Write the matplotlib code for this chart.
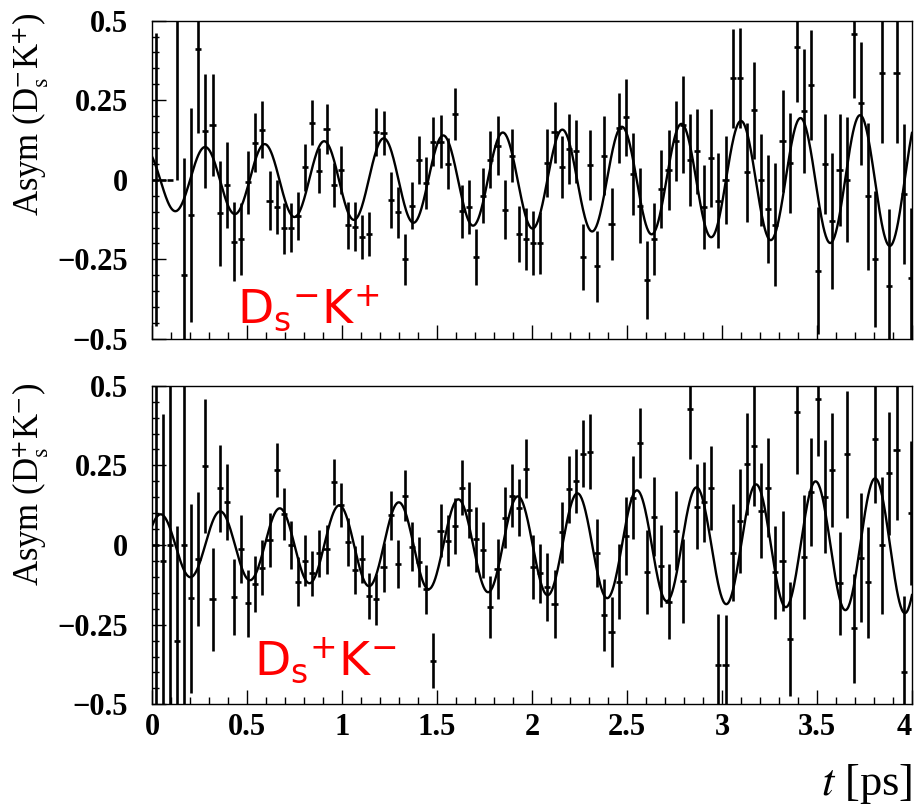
import numpy as np
import matplotlib.pyplot as plt
from matplotlib.ticker import MultipleLocator, FuncFormatter

# histogram binning: 0.0375 ps wide bins, first 107 bins shown (0 - 4 ps)
bin_width = 0.0375
n_bins = 107
t_bins = (np.arange(n_bins) + 0.5) * bin_width

# Asym(Ds- K+) per bin and its error
asym_dsm = [0.000, 0.000, 0.000, 1.000, -0.300, -0.110, 0.412, 0.152, 0.173, -0.105,
            -0.016, -0.194, -0.186, -0.008, 0.117, 0.157, -0.066, -0.086, -0.152, -0.150,
            -0.113, 0.039, 0.180, 0.029, 0.160, -0.016, 0.031, -0.143, -0.147, -0.180,
            -0.170, 0.150, 0.147, -0.063, -0.102, -0.249, -0.081, 0.063, -0.010, 0.120,
            0.120, 0.050, 0.207, -0.099, -0.086, -0.243, -0.050, 0.063, 0.107, -0.094,
            0.076, -0.171, -0.186, -0.199, -0.199, 0.054, 0.149, 0.040, 0.097, 0.089,
            -0.243, 0.047, -0.272, 0.076, -0.139, 0.162, 0.196, 0.018, -0.081, -0.314,
            -0.186, -0.028, 0.031, 0.122, 0.173, 0.063, 0.089, -0.084, 0.070, -0.065,
            0.000, 0.319, 0.319, 0.024, 0.218, 0.000, -0.091, -0.141, 0.122, 0.052,
            0.416, 0.215, 0.298, -0.285, 0.049, -0.129, 0.031, 0.000, 0.457, 0.241,
            -0.052, -0.249, 0.335, -0.333, 0.335, -0.045, -0.307]
err_dsm = [0.460, 0.000, 0.000, 1.000, 0.370, 0.337, 0.265, 0.179, 0.160, 0.165,
           0.136, 0.123, 0.113, 0.100, 0.092, 0.090, 0.093, 0.085, 0.080, 0.078,
           0.075, 0.075, 0.072, 0.070, 0.078, 0.070, 0.074, 0.073, 0.078, 0.070,
           0.070, 0.076, 0.070, 0.088, 0.080, 0.080, 0.075, 0.076, 0.083, 0.078,
           0.083, 0.080, 0.081, 0.083, 0.084, 0.087, 0.087, 0.090, 0.092, 0.092,
           0.084, 0.088, 0.097, 0.100, 0.097, 0.107, 0.097, 0.098, 0.110, 0.100,
           0.103, 0.110, 0.112, 0.125, 0.112, 0.110, 0.122, 0.129, 0.118, 0.122,
           0.113, 0.122, 0.126, 0.127, 0.153, 0.145, 0.135, 0.132, 0.154, 0.148,
           0.138, 0.156, 0.157, 0.155, 0.153, 0.145, 0.170, 0.193, 0.160, 0.157,
           0.173, 0.195, 0.173, 0.200, 0.157, 0.213, 0.176, 0.196, 0.200, 0.193,
           0.231, 0.213, 0.220, 0.240, 0.220, 0.220, 0.220]

# Asym(Ds+ K-) per bin and its error
asym_dsp = [0.000, -0.050, 0.000, -0.300, 0.000, -0.167, -0.044, 0.249, -0.171, 0.178,
            0.134, -0.162, -0.013, -0.183, -0.123, -0.071, 0.016, 0.235, 0.097, 0.000,
            -0.115, -0.049, -0.089, -0.026, -0.014, 0.197, 0.126, 0.010, -0.078, -0.044,
            -0.160, -0.171, -0.070, 0.094, -0.060, 0.155, -0.005, -0.054, -0.139, -0.363,
            0.045, 0.013, 0.061, 0.180, 0.110, 0.018, -0.016, -0.194, -0.075, 0.086,
            0.155, 0.117, 0.239, -0.068, -0.089, -0.133, -0.186, 0.040, 0.175, 0.202,
            0.286, 0.293, -0.024, -0.220, -0.274, -0.115, 0.029, 0.149, 0.319, -0.084,
            0.089, -0.066, -0.178, 0.044, -0.113, 0.427, 0.120, 0.134, 0.180, -0.377,
            -0.377, -0.024, 0.076, 0.254, 0.311, 0.108, 0.180, -0.086, -0.050, -0.295,
            0.419, -0.037, 0.167, 0.458, 0.152, 0.235, -0.120, 0.285, -0.262, -0.040,
            -0.117, 0.332, 0.000, 0.225, 0.298, -0.400, 0.100]
err_dsp = [0.700, 0.460, 0.700, 0.360, 0.700, 0.296, 0.210, 0.210, 0.161, 0.137,
           0.119, 0.119, 0.107, 0.105, 0.087, 0.086, 0.085, 0.084, 0.081, 0.076,
           0.076, 0.079, 0.070, 0.073, 0.076, 0.072, 0.069, 0.076, 0.075, 0.075,
           0.072, 0.080, 0.077, 0.077, 0.076, 0.080, 0.077, 0.079, 0.077, 0.086,
           0.083, 0.080, 0.088, 0.087, 0.089, 0.102, 0.089, 0.098, 0.094, 0.096,
           0.098, 0.089, 0.093, 0.100, 0.093, 0.107, 0.106, 0.095, 0.105, 0.100,
           0.105, 0.117, 0.107, 0.113, 0.110, 0.117, 0.123, 0.130, 0.110, 0.131,
           0.124, 0.129, 0.117, 0.124, 0.131, 0.158, 0.133, 0.125, 0.132, 0.160,
           0.157, 0.152, 0.163, 0.160, 0.190, 0.148, 0.155, 0.147, 0.157, 0.180,
           0.197, 0.195, 0.170, 0.180, 0.178, 0.178, 0.161, 0.199, 0.170, 0.203,
           0.174, 0.200, 0.215, 0.193, 0.220, 0.240, 0.227]

# fitted oscillation: (a0 + a1*t) * cos(2*pi*(t - t_peak)/period)
period = 0.3134
fit_dsm = (0.095, 0.029, 0.279)
fit_dsp = (0.095, 0.030, 0.045)

plt.rcParams['font.family'] = ['Liberation Serif', 'DejaVu Serif']
plt.rcParams['mathtext.fontset'] = 'stix'

fig = plt.figure(figsize=(9.16, 8.10), dpi=100)
ax_top = fig.add_axes([0.1659, 0.5815, 0.8297, 0.3930])
ax_bot = fig.add_axes([0.1659, 0.1305, 0.8297, 0.3933])

t_fine = np.linspace(0, 4, 1200)
fmt = FuncFormatter(lambda v, p: f'{v:g}'.replace('-', '\u2212'))

panels = [
    (ax_top, asym_dsm, err_dsm, fit_dsm, r'D$_\mathrm{s}$$^{-}$K$^{+}$', (0.447, -0.449)),
    (ax_bot, asym_dsp, err_dsp, fit_dsp, r'D$_\mathrm{s}$$^{+}$K$^{-}$', (0.535, -0.408)),
]
for ax, vals, errs, fit, tag, tag_pos in panels:
    ax.errorbar(t_bins, vals, yerr=errs, xerr=0.016, fmt='none',
                ecolor='black', elinewidth=1.9, capsize=0)
    a0, a1, t_peak = fit
    curve = (a0 + a1 * t_fine) * np.cos(2 * np.pi * (t_fine - t_peak) / period)
    ax.plot(t_fine, curve, color='black', lw=1.7)
    ax.set_xlim(0, 4)
    ax.set_ylim(-0.5, 0.5)
    ax.xaxis.set_major_locator(MultipleLocator(0.5))
    ax.xaxis.set_minor_locator(MultipleLocator(0.1))
    ax.yaxis.set_major_locator(MultipleLocator(0.25))
    ax.yaxis.set_minor_locator(MultipleLocator(0.05))
    ax.xaxis.set_major_formatter(fmt)
    ax.yaxis.set_major_formatter(fmt)
    ax.tick_params(which='both', direction='in', top=False, right=False, width=1)
    ax.tick_params(which='major', length=10)
    ax.tick_params(which='minor', length=5)
    ax.tick_params(axis='y', which='major', pad=17, labelsize=22)
    ax.tick_params(axis='x', which='major', pad=6, labelsize=22)
    for lab in ax.get_xticklabels() + ax.get_yticklabels():
        lab.set_fontweight('bold')
    for sp in ax.spines.values():
        sp.set_linewidth(1)
    ax.text(tag_pos[0], tag_pos[1], tag, color='red', fontsize=34,
            family='DejaVu Sans', math_fontfamily='dejavusans', va='baseline')

ax_top.tick_params(axis='x', labelbottom=False)

fig.text(0.034, 0.984, r'Asym (D$_{\rm s}^{-}$K$^{+}$)', rotation=90,
         ha='center', va='top', fontsize=25)
fig.text(0.034, 0.527, r'Asym (D$_{\rm s}^{+}$K$^{-}$)', rotation=90,
         ha='center', va='top', fontsize=25)
fig.text(0.996, 1 - 795 / 810, r'$t$ [ps]', ha='right', va='baseline', fontsize=32)

# keep the last x label inside the picture
fig.canvas.draw()
for lab in ax_bot.get_xticklabels():
    if lab.get_text() == '4':
        lab.set_horizontalalignment('right')

fig.savefig('out.png', dpi=100)
